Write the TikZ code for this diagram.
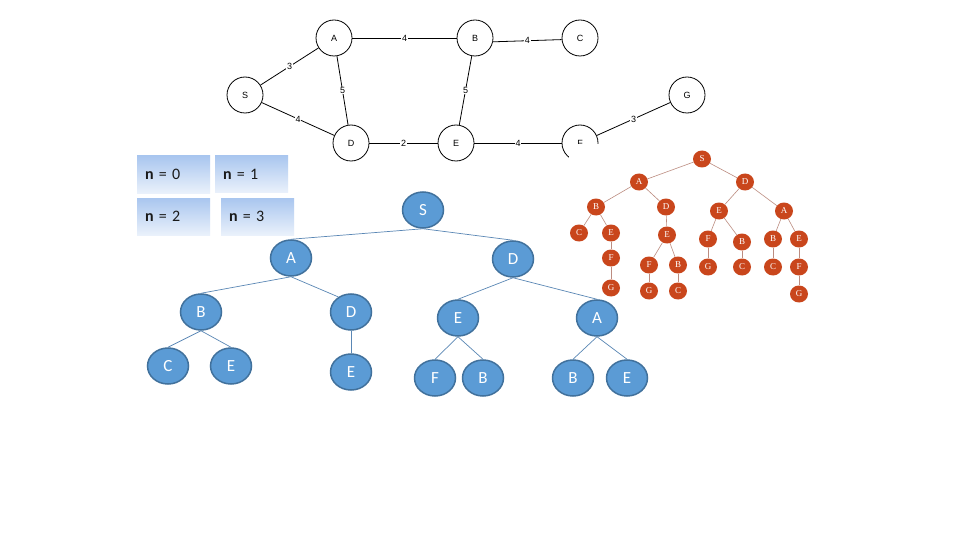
\documentclass[tikz,border=0pt]{standalone}
\usepackage{fontspec}
\setmainfont{Carlito}
\newfontfamily\arialf{Liberation Sans}
\newfontfamily\timesf{Liberation Serif}
\usetikzlibrary{shapes.geometric}
\definecolor{bfill}{HTML}{5B9BD5}
\definecolor{bline}{HTML}{41719C}
\definecolor{bedge}{HTML}{5A87B5}
\definecolor{rfill}{HTML}{C9461C}
\definecolor{redge}{HTML}{BC8C80}
\definecolor{boxtop}{HTML}{A9C6EF}
\definecolor{boxbot}{HTML}{EAF1FB}
\definecolor{boxtext}{HTML}{1A1A1A}
\begin{document}
\begin{tikzpicture}[x=1pt,y=-1pt,
  gnode/.style={circle,draw=black,line width=0.8pt,minimum size=36pt,inner sep=0pt,font=\arialf\fontsize{9}{10}\selectfont},
  glabel/.style={fill=white,inner sep=0.8pt,font=\arialf\fontsize{9}{10}\selectfont},
  gedge/.style={line width=0.8pt,draw=black},
  nbox/.style={rectangle,top color=boxtop,bottom color=boxbot,draw=none,minimum width=73pt,minimum height=37pt,text width=57pt,inner xsep=8pt,inner ysep=0pt,align=left,text=boxtext,font=\fontsize{16}{18}\selectfont},
  bnode/.style={ellipse,fill=bfill,draw=bline,line width=1.5pt,minimum width=41pt,minimum height=36pt,inner sep=0pt,text=white,font=\fontsize{17}{19}\selectfont},
  bedgest/.style={draw=bedge,line width=0.7pt},
  rnode/.style={ellipse,fill=rfill,draw=none,minimum width=18pt,minimum height=17pt,inner sep=0pt,text=white,font=\timesf\fontsize{9}{10}\selectfont},
  redgest/.style={draw=redge,line width=0.6pt}]
\fill[white] (0,0) rectangle (960,540);
\useasboundingbox (0,0) rectangle (960,540);

% ---------- top graph ----------
\node[gnode] (gA) at (334,38) {A};
\node[gnode] (gB) at (475,38) {B};
\node[gnode] (gC) at (580,38) {C};
\node[gnode] (gS) at (245,95) {S};
\node[gnode] (gD) at (351,143) {D};
\node[gnode] (gE) at (456,143) {E};
\node[gnode] (gF) at (580,143) {F};
\node[gnode] (gG) at (687,95) {G};
\draw[gedge] (gS) -- node[glabel] {3} (gA);
\draw[gedge] (gA) -- node[glabel] {4} (gB);
\draw[gedge] (gB.-12) -- node[glabel] {4} (gC.185);
\draw[gedge] (gA) -- node[glabel] {5} (gD);
\draw[gedge] (gB) -- node[glabel] {5} (gE);
\draw[gedge] (gS) -- node[glabel] {4} (gD);
\draw[gedge] (gD) -- node[glabel] {2} (gE);
\draw[gedge] (gE) -- node[glabel] {4} (gF);
\draw[gedge] (gF) -- node[glabel] {3} (gG);

% ---------- red tree (picture with white background) ----------
\fill[white] (569,144.5) rectangle (822,305);
\node[rnode] (rS) at (702,159) {S};
\node[rnode] (rA) at (639,182) {A};
\node[rnode] (rD) at (745,182) {D};
\node[rnode] (rB) at (596,207) {B};
\node[rnode] (rD2) at (666,207) {D};
\node[rnode] (rE) at (719,211) {E};
\node[rnode] (rA2) at (784,211) {A};
\node[rnode] (rC) at (579,233) {C};
\node[rnode] (rE2) at (611,233) {E};
\node[rnode] (rE3) at (667,235) {E};
\node[rnode] (rF) at (708,239) {F};
\node[rnode] (rB2) at (742,242) {B};
\node[rnode] (rB3) at (773,239) {B};
\node[rnode] (rE4) at (799,239) {E};
\node[rnode] (rF2) at (611,258) {F};
\node[rnode] (rF3) at (649,265) {F};
\node[rnode] (rB4) at (678,265) {B};
\node[rnode] (rG) at (708,267) {G};
\node[rnode] (rC2) at (742,267) {C};
\node[rnode] (rC3) at (773,267) {C};
\node[rnode] (rF4) at (799,267) {F};
\node[rnode] (rG2) at (611,288) {G};
\node[rnode] (rG3) at (649,291) {G};
\node[rnode] (rC4) at (678,291) {C};
\node[rnode] (rG4) at (799,294) {G};
\foreach \p/\c in {rS/rA,rS/rD,rA/rB,rA/rD2,rD/rE,rD/rA2,rB/rC,rB/rE2,rE2/rF2,rF2/rG2,
  rD2/rE3,rE3/rF3,rE3/rB4,rF3/rG3,rB4/rC4,rE/rF,rE/rB2,rF/rG,rB2/rC2,rA2/rB3,rA2/rE4,rB3/rC3,rE4/rF4,rF4/rG4}
  \draw[redgest] (\p) -- (\c);

% ---------- n boxes ----------
\node[nbox] (n0) at (173.5,174.5) {\textbf{n} = 0};
\node[nbox] (n1) at (251.5,174) {\textbf{n} = 1};
\node[nbox] (n2) at (173.5,216.5) {\textbf{n} = 2};
\node[nbox] (n3) at (257.5,216.5) {\textbf{n} = 3};

% ---------- blue tree ----------
\node[bnode] (bS) at (423,210) {S};
\node[bnode] (bA) at (291,258) {A};
\node[bnode] (bD) at (513,259) {D};
\node[bnode] (bB) at (201,312) {B};
\node[bnode] (bD2) at (351,312) {D};
\node[bnode] (bE) at (458,318) {E};
\node[bnode] (bA2) at (597,318) {A};
\node[bnode] (bC) at (168,366) {C};
\node[bnode] (bE2) at (231,366) {E};
\node[bnode] (bE3) at (351,372) {E};
\node[bnode] (bF) at (435,378) {F};
\node[bnode] (bB2) at (483,378) {B};
\node[bnode] (bB3) at (573,378) {B};
\node[bnode] (bE4) at (627,378) {E};
\draw[bedgest] (bS.south) -- (bA.north);
\draw[bedgest] (bS.south) -- (bD.north);
\draw[bedgest] (bA.south) -- (bB.north);
\draw[bedgest] (bA.south) -- (bD2.130);
\draw[bedgest] (bB.south) -- (bC.north);
\draw[bedgest] (bB.south) -- (bE2.north);
\draw[bedgest] (bD2.south) -- (bE3.north);
\draw[bedgest] (bD.south) -- (bE.north);
\draw[bedgest] (bD.south) -- (bA2.north);
\draw[bedgest] (bE.south) -- (bF.north);
\draw[bedgest] (bE.south) -- (bB2.north);
\draw[bedgest] (bA2.south) -- (bB3.north);
\draw[bedgest] (bA2.south) -- (bE4.north);
\end{tikzpicture}
\end{document}
